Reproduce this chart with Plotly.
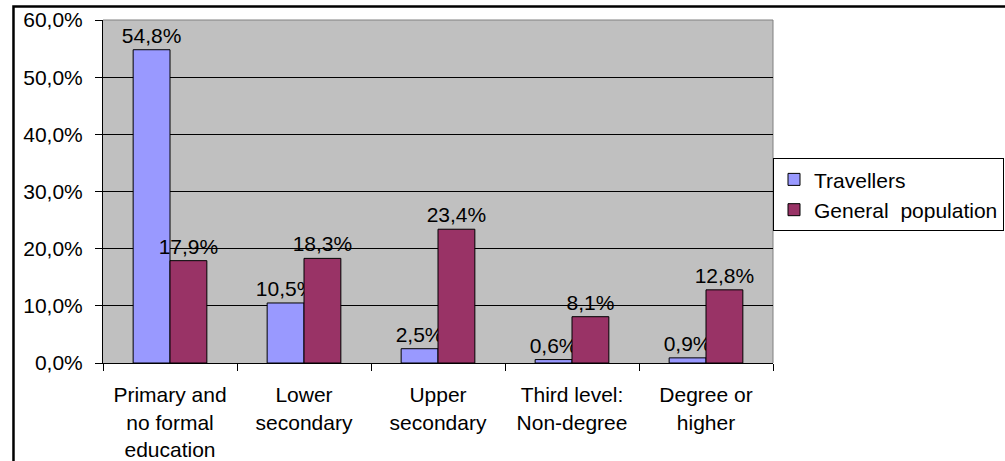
import plotly.graph_objects as go

categories = ["Primary and<br>no formal<br>education", "Lower<br>secondary", "Upper<br>secondary",
              "Third level:<br>Non-degree", "Degree or<br>higher"]
travellers = [0.548, 0.105, 0.025, 0.006, 0.009]
general_population = [0.179, 0.183, 0.234, 0.081, 0.128]
series_names = ["Travellers", "General\u00a0 population"]
y_ticks = [0, 0.1, 0.2, 0.3, 0.4, 0.5, 0.6]

FONT = "Liberation Sans, Arial, sans-serif"
FS = 21

fig = go.Figure()
fig.add_trace(go.Bar(
    x=categories, y=travellers, name=series_names[0],
    marker=dict(color="#9999FF", line=dict(color="black", width=1)),
    texttemplate="%{y:.1%}", textposition="outside", constraintext="none",
    textfont=dict(size=FS, color="black", family=FONT), cliponaxis=False,
))
fig.add_trace(go.Bar(
    x=categories, y=general_population, name=series_names[1],
    marker=dict(color="#993366", line=dict(color="black", width=1)),
    texttemplate="%{y:.1%}", textposition="outside", constraintext="none",
    textfont=dict(size=FS, color="black", family=FONT), cliponaxis=False,
))

fig.update_layout(
    width=1005, height=461,
    margin=dict(l=103, r=232, t=20, b=98, autoexpand=False),
    paper_bgcolor="white", plot_bgcolor="#C0C0C0",
    separators=",.",
    barmode="group", bargap=0.45, bargroupgap=0,
    font=dict(family=FONT, size=FS, color="black"),
    legend=dict(
        x=1.0, y=0.597, xanchor="left", yanchor="top",
        bgcolor="white", bordercolor="black", borderwidth=1,
        font=dict(size=FS, family=FONT, color="black"),
        itemwidth=30, tracegroupgap=0,
    ),
    showlegend=True,
    xaxis=dict(
        showline=True, linecolor="black", linewidth=1,
        ticks="outside", tickson="boundaries", ticklen=7, tickcolor="black",
        tickfont=dict(size=FS, family=FONT, color="black"),
        ticklabelstandoff=13,
        showgrid=False,
    ),
    yaxis=dict(
        range=[0, 0.6], tickvals=y_ticks, tickformat=".1%",
        showline=True, linecolor="black", linewidth=1,
        ticks="outside", ticklen=7, tickcolor="black",
        tickfont=dict(size=FS, family=FONT, color="black"),
        ticklabelstandoff=8,
        showgrid=True, gridcolor="black", gridwidth=1,
        zeroline=False,
    ),
    shapes=[
        dict(type="path", xref="paper", yref="paper",
             path="M 0,1 L 1,1 L 1,0", line=dict(color="#808080", width=1), layer="below"),
        dict(type="rect", xref="paper", yref="paper",
             x0=-0.1336, x1=1.6, y0=-0.6, y1=1.0394,
             line=dict(color="black", width=2.5), layer="above"),
    ],
)

fig.write_html(
    "out.html",
    config={"displayModeBar": False},
    post_script="document.body.style.margin='0';document.body.style.overflow='hidden';",
)
